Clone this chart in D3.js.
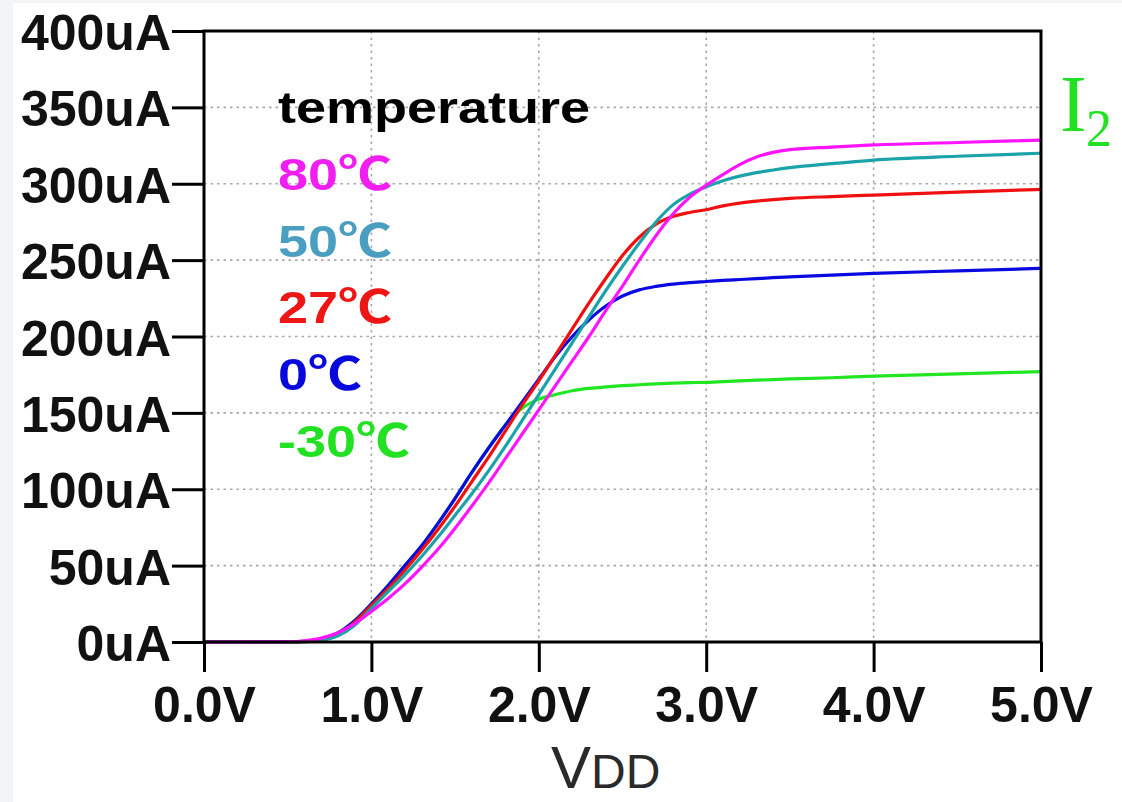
<!DOCTYPE html>
<html>
<head>
<meta charset="utf-8">
<script src="https://cdn.jsdelivr.net/npm/d3@7"></script>
<style>
html,body{margin:0;padding:0;background:#fff;}
svg{display:block;}
</style>
</head>
<body>
<svg id="chart" width="1122" height="802"></svg>
<script>
// ---- data ----
const xTicks = [0, 1, 2, 3, 4, 5];
const xTickLabels = ["0.0V", "1.0V", "2.0V", "3.0V", "4.0V", "5.0V"];
const yTicks = [0, 50, 100, 150, 200, 250, 300, 350, 400];
const yTickLabels = ["0uA", "50uA", "100uA", "150uA", "200uA", "250uA", "300uA", "350uA", "400uA"];

const seriesNames = ["-30℃", "0℃", "27℃", "50℃", "80℃"];
const legendTitle = "temperature";
const legendOrder = ["80℃", "50℃", "27℃", "0℃", "-30℃"];

const vdd = [0, 0.5, 0.6, 0.7, 0.8, 0.9, 1.0, 1.1, 1.2, 1.3, 1.4, 1.5, 1.6, 1.7, 1.8, 1.9, 2.0, 2.1, 2.2, 2.3, 2.4, 2.5, 2.6, 2.7, 2.8, 2.9, 3.0, 3.1, 3.2, 3.3, 3.4, 3.5, 3.75, 4.0, 4.5, 5.0];

const iM30 = [0, 0, 0.5, 2, 6, 14, 25, 37, 50, 63, 78, 94, 111, 127, 142, 153, 159, 162, 164.5, 166, 167, 167.8, 168.4, 169, 169.5, 169.8, 170, 170.5, 171, 171.4, 171.8, 172.2, 173, 174, 175.5, 177];
const i0 = [0, 0, 0.5, 2, 6, 14, 25, 37, 50, 63, 78, 94, 111, 127, 142, 157, 172, 187, 200, 211, 220, 226.5, 230.5, 232.8, 234.3, 235.3, 236, 236.7, 237.3, 237.9, 238.5, 239, 240.2, 241.3, 243, 244.6];
const i27 = [0, 0, 0.3, 1.5, 5, 13, 24, 35, 47, 60, 74, 89, 105, 121, 138, 155, 171, 188, 205, 222, 238, 253, 265, 273.5, 278.5, 281.2, 283, 285.5, 287.3, 288.6, 289.6, 290.4, 291.6, 292.6, 294.5, 296.3];
const i50 = [0, 0, 0.2, 1, 4, 11, 22, 33, 44, 56, 69, 83, 97, 112, 128, 145, 162, 179, 196, 213, 230, 246, 261, 275, 286, 293, 298, 302, 305, 307.3, 309, 310.5, 313.2, 315.5, 318, 320];
const i80 = [0, 0.2, 0.8, 2.5, 6, 12, 20, 28.5, 38, 49, 61, 74.5, 89, 104, 120, 136, 152, 168, 184, 200, 217, 233, 250, 266, 280, 291, 299, 306, 312.5, 317.5, 320.5, 322.3, 324, 325.4, 327, 328.6];

const seriesValues = [iM30, i0, i27, i50, i80];
const lineColors = ["#22e622", "#0a0ae0", "#f01010", "#1aa3a8", "#ff14ff"];
const legendColors = {"80℃": "#f01ef0", "50℃": "#4a9fc0", "27℃": "#ee1515", "0℃": "#0808dc", "-30℃": "#22e022"};

// ---- layout ----
const svg = d3.select("#chart");
const mLeft = 204, mRight = 1041, mTop = 31, mBottom = 642;

svg.append("rect").attr("x", 0).attr("y", 0).attr("width", 1122).attr("height", 802).attr("fill", "#f2f4f7");
svg.append("rect").attr("x", 13).attr("y", 3).attr("width", 1109).attr("height", 799).attr("fill", "#ffffff");

const x = d3.scaleLinear().domain([0, 5]).range([mLeft, mRight]);
const y = d3.scaleLinear().domain([0, 400]).range([mBottom, mTop]);

// grid
const grid = svg.append("g");
grid.selectAll("line.gx").data(xTicks.slice(1, -1)).join("line")
  .attr("x1", d => x(d)).attr("x2", d => x(d)).attr("y1", mTop).attr("y2", mBottom)
  .attr("stroke", "#a8a8a8").attr("stroke-width", 1.6).attr("stroke-dasharray", "2.5,4");
grid.selectAll("line.gy").data(yTicks.slice(1, -1)).join("line")
  .attr("x1", mLeft).attr("x2", mRight).attr("y1", d => y(d)).attr("y2", d => y(d))
  .attr("stroke", "#a8a8a8").attr("stroke-width", 1.6).attr("stroke-dasharray", "2.5,4");

// curves
const line = d3.line().x(d => x(d[0])).y(d => y(d[1])).curve(d3.curveMonotoneX);
const curves = svg.append("g");
seriesValues.forEach((vals, i) => {
  curves.append("path")
    .attr("d", line(vdd.map((v, k) => [v, vals[k]])))
    .attr("fill", "none").attr("stroke", lineColors[i]).attr("stroke-width", 3.2)
    .attr("stroke-linejoin", "round");
});

// frame
svg.append("rect").attr("x", mLeft).attr("y", mTop).attr("width", mRight - mLeft).attr("height", mBottom - mTop)
  .attr("fill", "none").attr("stroke", "#000").attr("stroke-width", 3);

// axes
const xAxis = d3.axisBottom(x).tickValues(xTicks).tickFormat((d, i) => xTickLabels[i]).tickSize(30).tickSizeOuter(0);
const gx = svg.append("g").attr("transform", `translate(0,${mBottom})`).call(xAxis);
gx.select(".domain").remove();
gx.selectAll(".tick line").attr("stroke", "#000").attr("stroke-width", 3);
gx.selectAll(".tick text").attr("y", 80).attr("dy", 0)
  .attr("font-family", "'Liberation Sans', Arial, sans-serif").attr("font-weight", "bold")
  .attr("font-size", 50).attr("fill", "#111");

const yAxis = d3.axisLeft(y).tickValues(yTicks).tickFormat((d, i) => yTickLabels[i]).tickSize(32).tickPadding(1).tickSizeOuter(0);
const gy = svg.append("g").attr("transform", `translate(${mLeft},0)`).call(yAxis);
gy.select(".domain").remove();
gy.selectAll(".tick line").attr("stroke", "#000").attr("stroke-width", 3);
gy.selectAll(".tick text").attr("dy", "0.37em")
  .attr("font-family", "'Liberation Sans', Arial, sans-serif").attr("font-weight", "bold")
  .attr("font-size", 50).attr("fill", "#111");

// legend
const sx = 1.2;
const lg = svg.append("g").attr("transform", `scale(${sx},1)`)
  .attr("font-family", "'Liberation Sans', 'Noto Sans CJK SC', Arial, sans-serif").attr("font-weight", "bold").attr("font-size", 45);
lg.append("text").attr("x", 278 / sx).attr("y", 123).attr("fill", "#000").text(legendTitle);
legendOrder.forEach((name, i) => {
  lg.append("text").attr("x", 278 / sx).attr("y", 123 + (i + 1) * 66.8)
    .attr("fill", legendColors[name]).text(name);
});

// I2 label
const il = svg.append("text").attr("x", 1060).attr("y", 131)
  .attr("font-family", "'Liberation Serif', 'Times New Roman', serif").attr("fill", "#22e022");
il.append("tspan").attr("font-size", 80).text("I");
il.append("tspan").attr("font-size", 52).attr("x", 1086).attr("y", 146).text("2");

// x axis title
const xt = svg.append("text").attr("x", 551).attr("y", 788)
  .attr("font-family", "'Liberation Sans', Arial, sans-serif").attr("fill", "#2a2a2a");
xt.append("tspan").attr("font-size", 60).text("V");
xt.append("tspan").attr("font-size", 48).text("DD");
</script>
</body>
</html>
